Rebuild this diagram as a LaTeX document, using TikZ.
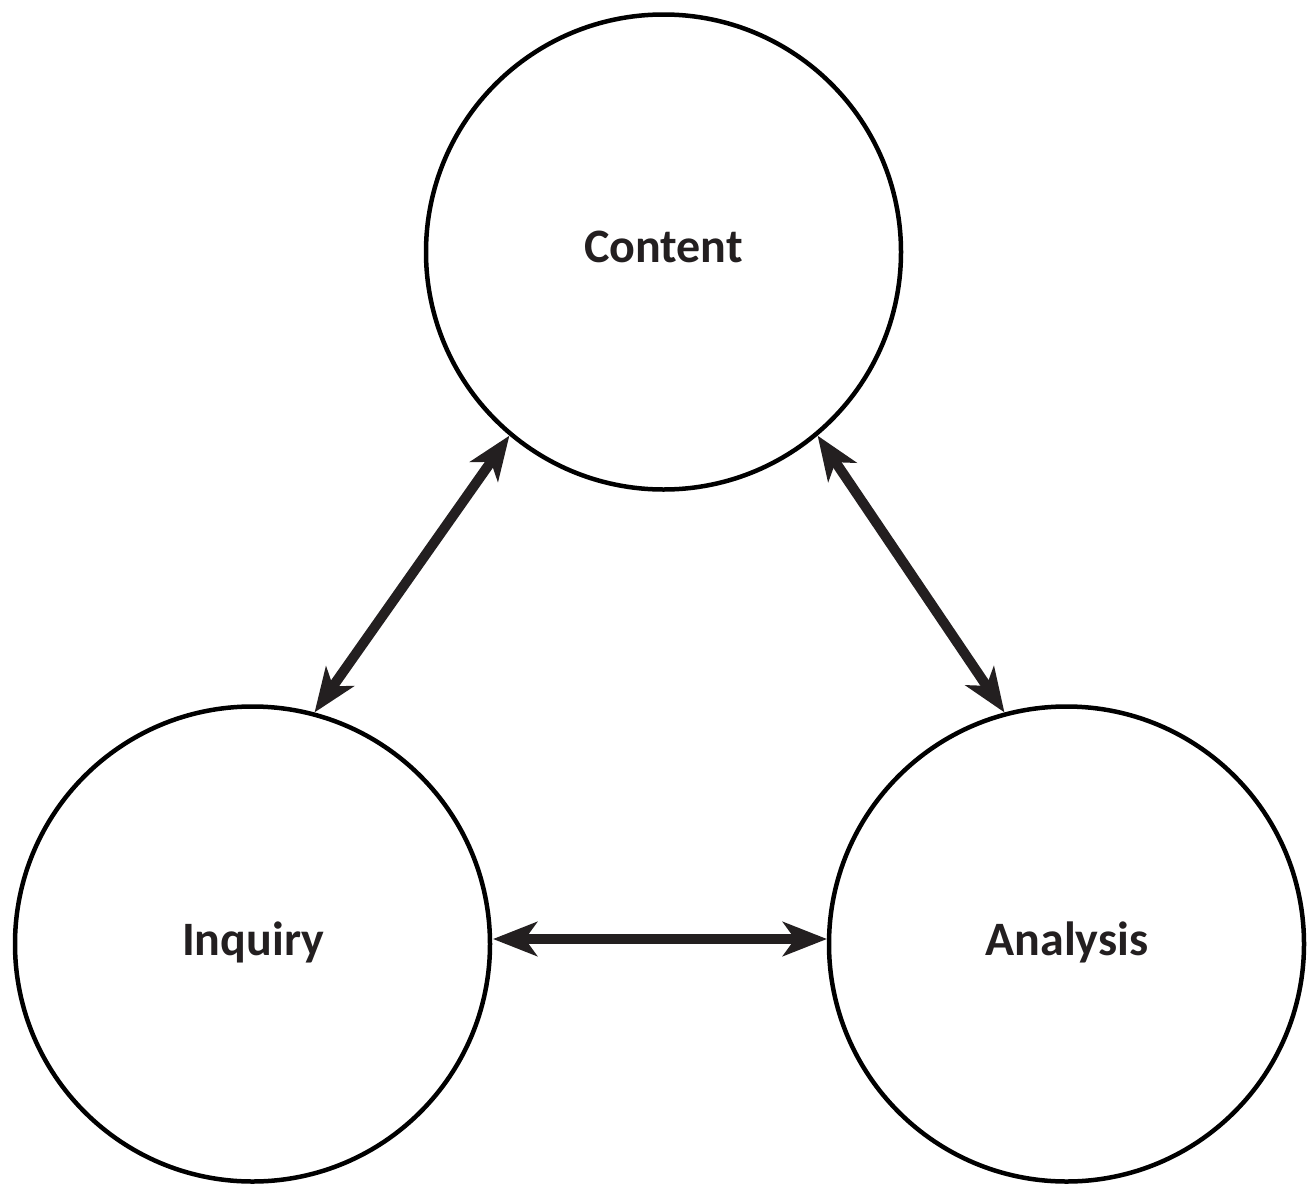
\documentclass[tikz,border=0pt]{standalone}
\usepackage{fontspec}
\setmainfont{Carlito}
\usetikzlibrary{arrows.meta}
\definecolor{arrowgray}{HTML}{231F20}
\begin{document}
\begin{tikzpicture}[x=1pt,y=-1pt,
  topic/.style={circle,draw=black,line width=4.5pt,minimum size=475pt,inner sep=0pt},
  label/.style={font=\fontsize{48}{52}\selectfont\bfseries,text=arrowgray},
  link/.style={line width=10pt,draw=arrowgray,
    {Stealth[length=44pt,width=34pt,inset=12pt]}-{Stealth[length=44pt,width=34pt,inset=12pt]}}]
\useasboundingbox (0,0) rectangle (1310,1186);
\node[topic] (content) at (663.5,252) {};
\node[topic] (inquiry) at (252.5,944) {};
\node[topic] (analysis) at (1066.5,944) {};
\node[label] (tc) at (663.5,247) {Content};
\node[label] (ti) at (253,942) {Inquiry};
\node[label] (ta) at (1067,942) {Analysis};
\coordinate (il) at (493,939);
\coordinate (ar) at (827,939);
\draw[link] (content.230) -- (inquiry.75);
\draw[link] (content.310) -- (analysis.105);
\draw[link] (il) -- (ar);
\end{tikzpicture}
\end{document}
